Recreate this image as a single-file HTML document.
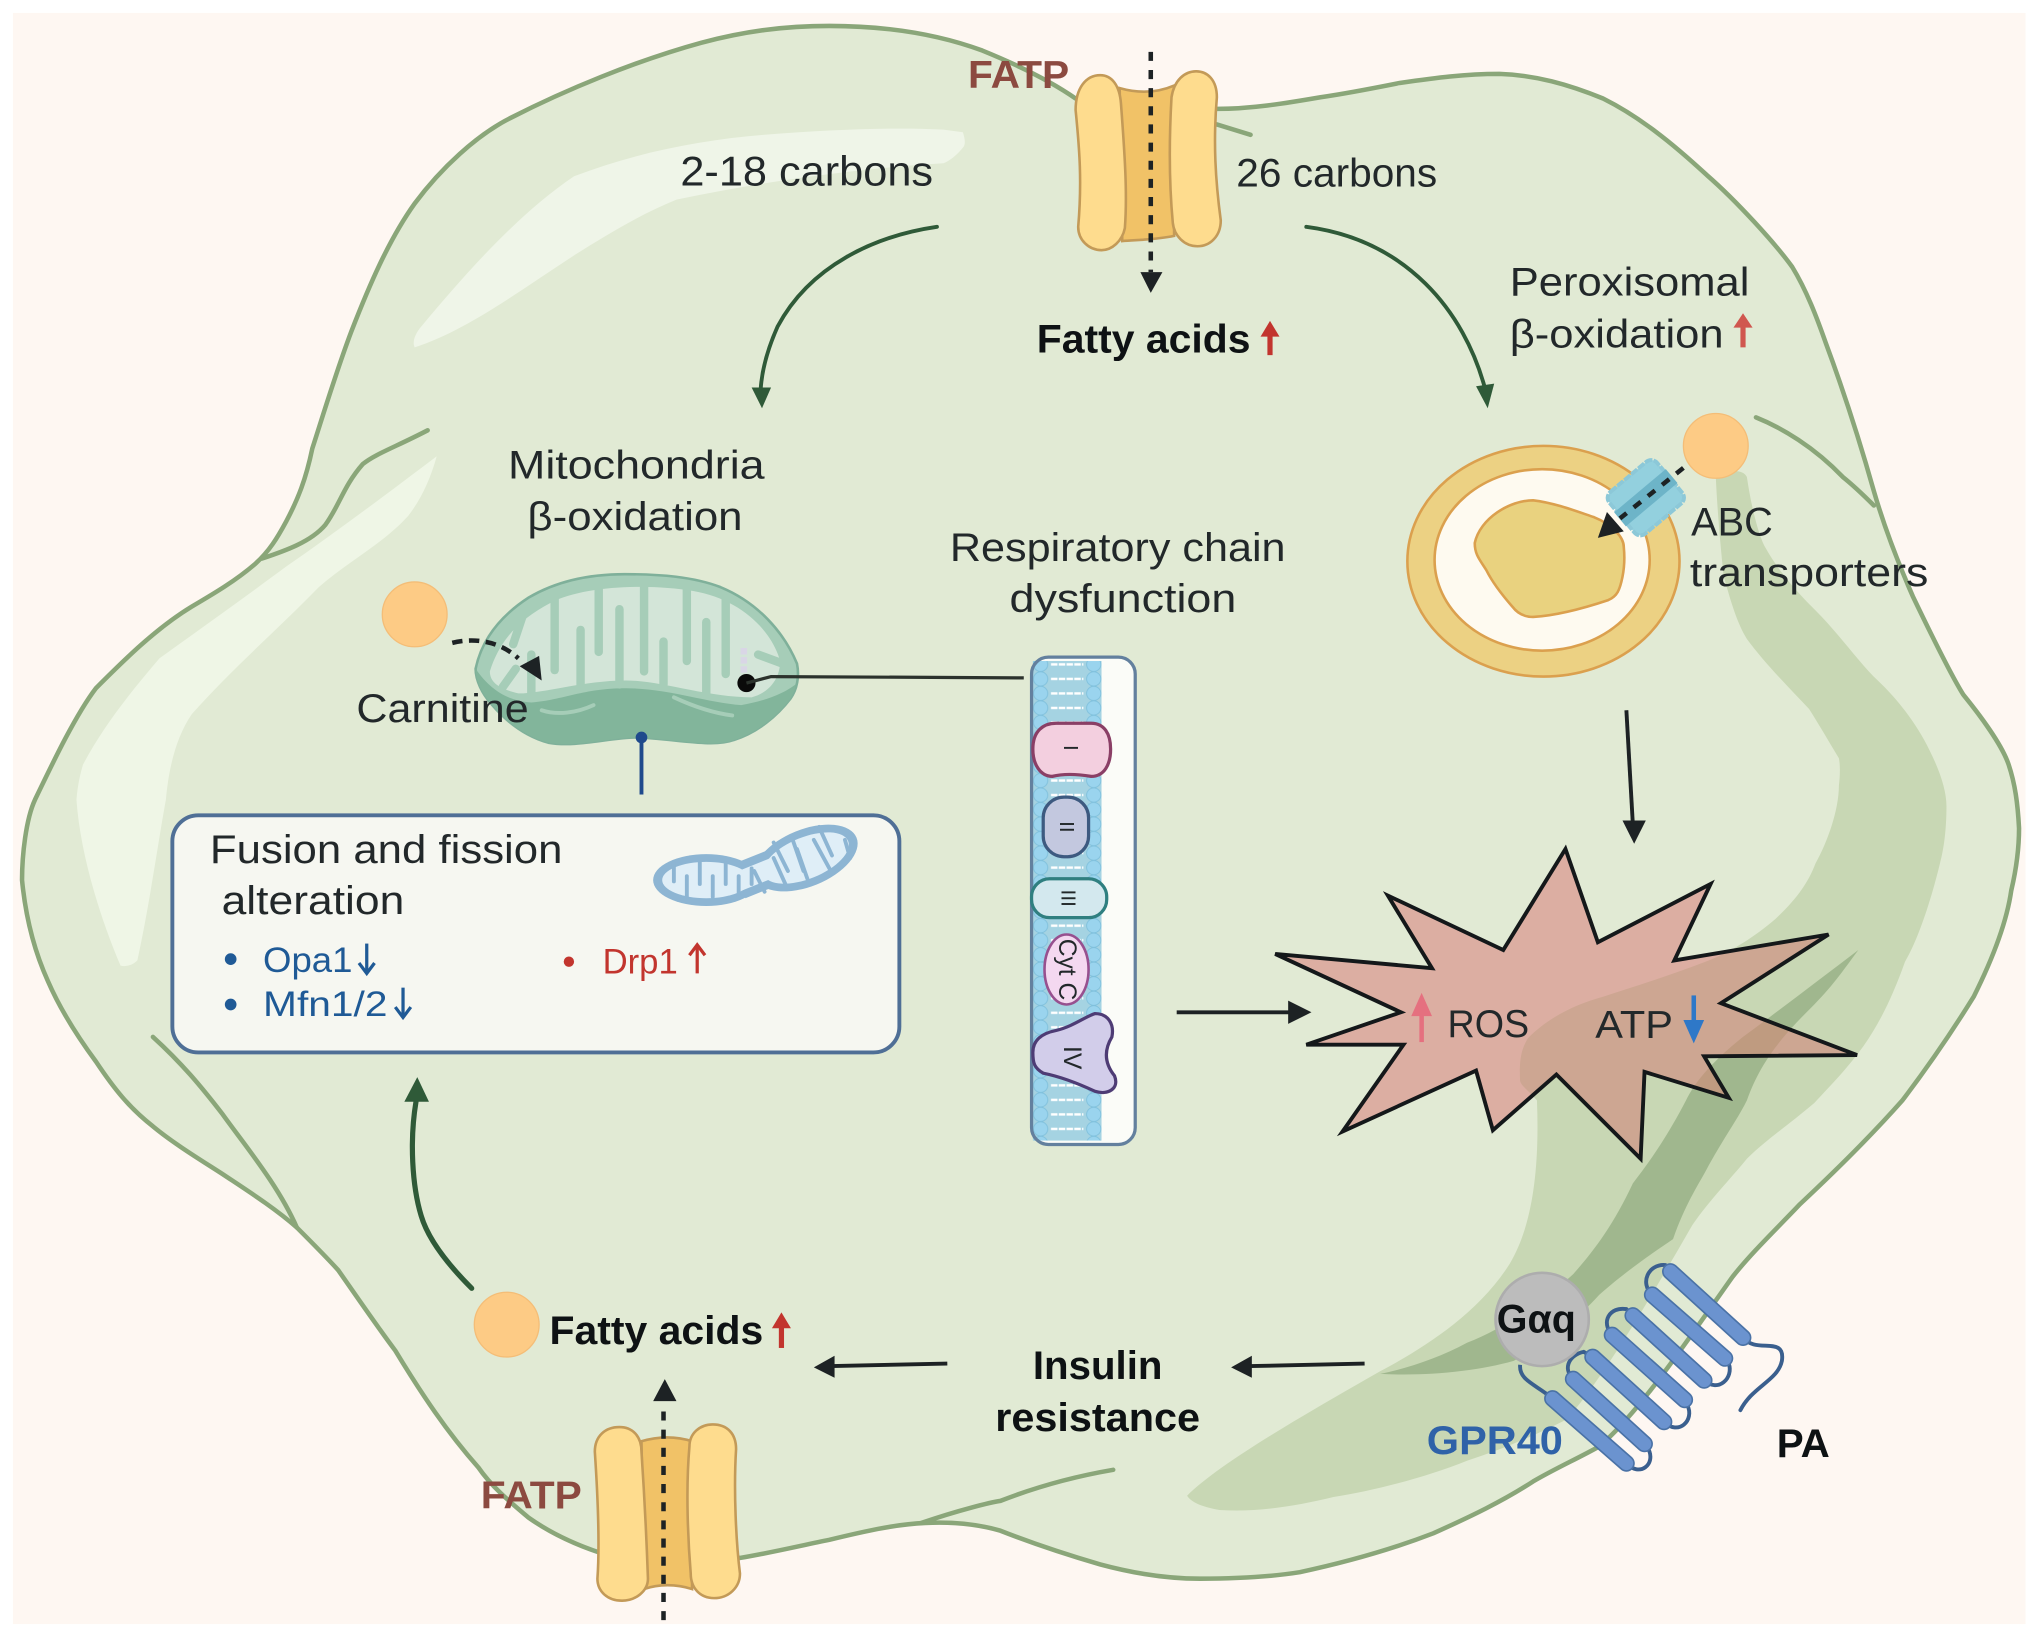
<!DOCTYPE html>
<html><head><meta charset="utf-8"><style>
html,body{margin:0;padding:0;background:#fff}
svg{display:block}
text{font-family:"Liberation Sans",sans-serif;fill:#22282a}
.b{font-weight:bold;fill:#0e1214}
</style></head><body>
<svg width="2032" height="1637" viewBox="0 0 1568 1263" preserveAspectRatio="none" xmlns="http://www.w3.org/2000/svg">
<defs>
<path id="star" d="M984 736L1105 747L1071 691L1160 733L1208 655L1233 727L1320 682L1292 741L1411 721L1328 774L1433 814L1315 815L1334 847L1269 827L1266 894L1201 829L1152 872L1139 826L1036 873L1083 806L1008 806L1081 781Z"/>
<path id="band" d="M1324 368C1335 362 1345 362 1348 368C1352 395 1358 415 1362 422C1375 445 1390 460 1401 471C1420 490 1435 512 1449 525C1465 540 1480 560 1489 579C1497 595 1502 610 1502 622C1502 640 1500 655 1497 666C1490 695 1480 725 1470 742C1460 770 1450 790 1438 807C1425 825 1412 838 1400 851C1380 868 1362 880 1348 894C1335 910 1320 925 1306 945C1280 990 1240 1060 1209 1095C1190 1105 1160 1118 1132 1127C1100 1140 1060 1150 1029 1155C1000 1162 970 1167 941 1165C930 1163 920 1160 916 1154C940 1130 1000 1095 1065 1058C1095 1042 1140 1015 1165 975C1183 945 1188 900 1186 849C1180 842 1174 838 1173 834C1172 815 1175 808 1179 801C1195 785 1215 775 1237 769C1265 760 1290 752 1316 742C1335 735 1355 722 1370 709C1385 695 1395 682 1401 666C1410 650 1419 625 1419 606C1420 598 1420 590 1419 585C1410 570 1403 558 1396 547C1380 530 1362 512 1348 493C1340 480 1335 462 1330 444C1327 415 1325 390 1324 368Z"/>
<path id="dark" d="M1434 733C1405 755 1375 778 1345 800C1320 820 1308 835 1301 849C1285 880 1270 900 1260 913C1245 945 1230 965 1214 983C1190 1005 1160 1025 1132 1036C1110 1048 1085 1056 1065 1060C1100 1062 1140 1058 1168 1050C1195 1035 1220 1015 1234 999C1258 978 1278 965 1291 956C1300 930 1310 915 1317 902C1330 878 1340 865 1348 849C1360 815 1380 795 1400 775C1415 760 1425 745 1434 733Z"/>
<clipPath id="sc"><use href="#star"/></clipPath>
<pattern id="lip" width="53" height="11.2" patternUnits="userSpaceOnUse" x="797" y="507">
<rect width="53" height="11.2" fill="#a5d3e2"/>
<circle cx="6" cy="5.6" r="5.5" fill="#9ad4ee" stroke="#7fc0dc" stroke-width=".7"/>
<circle cx="47" cy="5.6" r="5.5" fill="#9ad4ee" stroke="#7fc0dc" stroke-width=".7"/>
<path d="M14 5.6H39" stroke="#fff" stroke-width="1.8" stroke-dasharray="5 1"/>
</pattern>
</defs>
<rect width="1568" height="1263" fill="#fff"/>
<rect x="10" y="10" width="1553" height="1243" fill="#fef7f2"/>
<!-- cell -->
<path d="M830 76C810 62 785 50 758 39C720 25 680 20 640 20C605 20 575 24 541 33C490 47 435 70 394 91C368 104 340 130 320 157C300 185 285 220 271 256C260 285 250 318 241 346C236 370 230 385 221 402C214 415 208 425 197 435C182 448 165 458 148 468C120 485 95 510 74 531C58 552 40 590 27 617C20 632 17 660 17 679C20 710 27 735 37 757C47 780 60 800 74 819C88 840 100 855 118 869C135 883 155 895 172 906C190 918 212 932 229 947C240 958 252 970 261 980C275 1000 290 1022 305 1042C325 1075 345 1105 369 1132C380 1148 395 1160 408 1171C425 1183 445 1192 463 1198L571 1202C595 1198 620 1192 640 1188C665 1182 690 1176 714 1175C735 1174 755 1176 772 1181C800 1192 825 1200 849 1207C875 1214 900 1218 926 1218C950 1218 978 1217 1003 1213C1040 1205 1075 1195 1106 1183C1135 1170 1160 1158 1183 1143C1200 1133 1218 1125 1234 1116C1265 1090 1305 1030 1337 985C1352 966 1372 947 1389 929C1420 900 1445 875 1468 849C1490 820 1510 790 1523 769C1535 745 1548 715 1552 687C1556 670 1558 655 1558 639C1557 620 1555 605 1550 590C1545 575 1528 552 1515 536C1505 520 1488 485 1476 460C1465 435 1455 410 1446 379C1435 340 1422 300 1409 265C1402 245 1394 224 1383 206C1370 188 1340 155 1317 135C1290 110 1265 90 1237 76C1210 65 1185 58 1157 57C1130 57 1108 60 1080 64C1060 68 1040 72 1019 75C990 80 965 84 939 84Z" fill="#e1ead4" stroke="#8aa679" stroke-width="3.5" stroke-linejoin="round"/>
<path d="M743 102C745 108 745 112 743 114C738 120 733 124 728 126C660 130 590 140 522 154C495 165 470 180 443 197C400 225 360 255 320 268C318 264 320 258 325 252C360 210 400 165 443 136C490 118 540 108 590 104C640 100 690 98 728 100Z" fill="#eff5e8"/>
<path d="M337 352C332 370 325 385 315 398C295 420 270 432 246 453C215 485 180 515 148 551C135 570 130 595 128 617C122 650 115 700 106 741C102 745 97 746 93 745C78 710 62 660 59 617C60 605 62 597 64 590C80 560 100 535 123 508C155 485 190 460 221 437C260 410 300 380 337 352Z" fill="#eff6e6"/>
<use href="#band" fill="#c8d7b4"/>
<use href="#dark" fill="#a0b78e"/>
<g fill="none" stroke="#8aa679" stroke-width="3.5" stroke-linecap="round">
<path d="M330 332C305 345 290 350 280 358C265 375 262 390 251 405C240 418 220 425 202 431"/>
<path d="M118 800C140 820 155 838 172 860C190 885 215 915 229 947"/>
<path d="M711 1175C740 1165 765 1159 772 1158C800 1147 830 1139 859 1134"/>
<path d="M1355 322C1375 330 1400 345 1422 368C1432 376 1440 384 1446 390"/>
<path d="M939 96L965 104"/>
</g>
<!-- top channel -->
<g stroke="#c39a58" stroke-width="2">
<path d="M864 68C878 72 892 72 906 66L906 182C892 185 878 185 866 186Z" fill="#f1c267"/>
<path d="M830 85C830 68 838 58 849 58C858 58 864 66 865 80C868 120 870 150 868 176C866 186 858 193 850 193C840 193 832 185 832 175C835 140 833 115 830 85Z" fill="#fedc8e"/>
<path d="M904 75C906 62 914 55 923 55C932 55 939 62 939 75C936 110 938 140 942 170C942 182 934 190 924 190C914 190 906 182 905 172C902 140 902 110 904 75Z" fill="#fedc8e"/>
</g>
<path d="M888 40V210" stroke="#1d2224" stroke-width="3.5" stroke-dasharray="7 7" fill="none"/>
<path d="M880 210H897L888 226Z" fill="#1d2224"/>
<!-- bottom channel -->
<g stroke="#c39a58" stroke-width="2">
<path d="M495 1112C508 1108 522 1108 534 1112V1226C522 1222 508 1222 497 1226Z" fill="#f1c267"/>
<path d="M459 1120C459 1108 467 1101 478 1101C488 1101 495 1108 495 1120C497 1150 499 1190 500 1218C500 1228 490 1235 480 1235C469 1235 461 1228 461 1218C463 1190 461 1150 459 1120Z" fill="#fedc8e"/>
<path d="M532 1116C532 1106 540 1099 550 1099C561 1099 568 1106 568 1118C566 1150 568 1190 571 1214C571 1225 562 1233 551 1233C540 1233 533 1225 533 1214C531 1190 529 1150 532 1116Z" fill="#fedc8e"/>
</g>
<path d="M512 1250V1082" stroke="#1d2224" stroke-width="3.5" stroke-dasharray="7 7" fill="none"/>
<path d="M504 1081H522L513 1064Z" fill="#1d2224"/>
<!-- green arrows -->
<g fill="none" stroke="#2f5a38" stroke-linecap="round">
<path d="M723 175C675 182 625 205 600 252C592 270 588 285 587 300" stroke-width="3"/>
<path d="M1008 175C1085 185 1130 240 1146 300" stroke-width="3"/>
<path d="M364 994C345 975 330 955 325 938C318 915 316 880 321 850" stroke-width="4"/>
</g>
<path d="M580 299L595 299L588 315Z" fill="#2f5a38"/>
<path d="M1139 298L1153 296L1148 315Z" fill="#2f5a38"/>
<path d="M312 850L331 850L322 831Z" fill="#2f5a38"/>
<!-- black arrows -->
<g fill="none" stroke="#1d2224" stroke-width="3">
<path d="M1255 548L1260 636"/>
<path d="M908 781H995"/>
<path d="M1053 1052L965 1054"/>
<path d="M731 1052L642 1054"/>
</g>
<g fill="#1d2224">
<path d="M1252 633L1270 633L1261 651Z"/>
<path d="M994 772L1012 781L994 790Z"/>
<path d="M966 1046L950 1055L966 1063Z"/>
<path d="M644 1046L628 1055L644 1063Z"/>
</g>
<!-- orange circles -->
<circle cx="320" cy="474" r="25" fill="#fdcb85" stroke="#f4bd77" stroke-width="1"/>
<circle cx="1324" cy="344" r="25" fill="#fdcb85" stroke="#f4bd77" stroke-width="1"/>
<circle cx="391" cy="1022" r="25" fill="#fdcb85" stroke="#f4bd77" stroke-width="1"/>
<!-- mitochondrion -->
<path d="M367 516C372 492 388 474 408 461C430 448 455 443 482 443C510 443 535 445 556 453C585 465 605 488 615 512C617 522 615 532 610 539C600 552 585 565 566 571C550 577 520 570 492 569C470 569 445 577 423 573C405 568 390 556 379 543C372 535 367 525 367 516Z" fill="#a6cdb8" stroke="#7fb09a" stroke-width="2"/>
<path d="M378 518C385 495 400 478 425 465C450 452 500 450 535 456C570 462 595 485 602 510C602 525 592 535 580 538C545 538 510 525 483 525C450 525 420 535 400 535C388 532 378 528 378 518Z" fill="#d3e5d8"/>
<path d="M367 516C367 525 372 535 379 543C390 556 405 568 423 573C445 577 470 569 492 569C520 570 550 577 566 571C585 565 600 552 610 539C612 535 614 532 614 528C605 535 590 541 572 544C545 542 515 531 483 531C450 531 435 540 410 542C395 541 380 535 367 516Z" fill="#82b59b"/>
<path d="M418 548C430 552 445 550 458 544M520 538C535 545 550 550 565 552" fill="none" stroke="#a6cdb8" stroke-width="3" stroke-linecap="round"/>
<g stroke="#a6cdb8" stroke-width="6.5" stroke-linecap="round" fill="none">
<path d="M428 460V517"/><path d="M462 450V503"/><path d="M497 448V518"/><path d="M530 452V510"/><path d="M560 462V520"/><path d="M405 470L396 497"/>
<path d="M448 530V486"/><path d="M478 528V470"/><path d="M512 528V495"/><path d="M545 536V480"/><path d="M410 538V505"/><path d="M388 530L398 516"/><path d="M604 512L585 505"/>
</g>
<circle cx="576" cy="527" r="7" fill="#0a0a0a"/>
<path d="M574 500V520" stroke="#d9d6e6" stroke-width="5" stroke-dasharray="5 2"/>
<path d="M576 527L595 522L790 523" fill="none" stroke="#2b322c" stroke-width="2.5"/>
<path d="M349 496C365 492 385 494 400 508" fill="none" stroke="#1d2224" stroke-width="3.5" stroke-dasharray="8 5"/>
<path d="M401 514L416 506L418 525Z" fill="#1d2224"/>
<path d="M495 570V613" stroke="#1f4a8c" stroke-width="3"/>
<circle cx="495" cy="569" r="4.5" fill="#1f4a8c"/>
<!-- box -->
<rect x="133" y="629" width="561" height="183" rx="20" fill="#f6f7f1" stroke="#4f6f96" stroke-width="3"/>
<ellipse cx="545" cy="679" rx="41" ry="20" fill="#8db5d3"/>
<ellipse cx="622" cy="662" rx="42" ry="22" transform="rotate(-22 622 662)" fill="#8db5d3"/>
<path d="M570 680L600 668" stroke="#8db5d3" stroke-width="28"/>
<ellipse cx="545" cy="679" rx="34" ry="14" fill="#dfeef7"/>
<ellipse cx="622" cy="662" rx="35" ry="16" transform="rotate(-22 622 662)" fill="#dfeef7"/>
<path d="M570 680L600 668" stroke="#dfeef7" stroke-width="15"/>
<g stroke="#8db5d3" stroke-width="3" fill="none" stroke-linecap="round">
<path d="M520 666V680M530 692V676M540 665V682M550 692V676M560 666V682M570 692V676M580 670V682"/>
<path d="M590 688L582 672M597 650L608 672M611 646L620 672M606 682L597 662M623 678L615 655M632 638L642 660M640 670L628 648M652 648L656 662"/>
</g>
<circle cx="178" cy="740" r="4.5" fill="#1f5a96"/><circle cx="178" cy="775" r="4.5" fill="#1f5a96"/><circle cx="439" cy="742" r="4" fill="#c2352e"/>
<!-- membrane -->
<rect x="796" y="507" width="80" height="376" rx="13" fill="#fbfcf8"/>
<rect x="797" y="510" width="53" height="370" fill="url(#lip)"/>
<rect x="796" y="507" width="80" height="376" rx="13" fill="none" stroke="#63809e" stroke-width="2.5"/>
<path d="M797 578C797 564 805 558 815 558H842C852 558 857 566 857 578C857 590 852 599 842 599C830 597 820 597 812 599C803 599 797 590 797 578Z" fill="#f3cfdf" stroke="#8a3f66" stroke-width="2.5"/>
<rect x="805" y="615" width="35" height="46" rx="16" fill="#c3c8df" stroke="#3d5a80" stroke-width="2.5"/>
<rect x="796" y="678" width="58" height="30" rx="14" fill="#d3e8ee" stroke="#2f7f80" stroke-width="2.5"/>
<ellipse cx="823" cy="748" rx="17" ry="27" fill="#f4d8f0" stroke="#97508f" stroke-width="2"/>
<path d="M797 812C797 802 805 797 815 795C828 792 838 784 845 782C855 782 860 790 858 800C852 810 852 820 860 830C864 840 855 845 845 842C830 835 815 830 805 828C798 824 797 820 797 812Z" fill="#d2cdea" stroke="#4e3c75" stroke-width="2.5"/>
<!-- peroxisome -->
<ellipse cx="1191" cy="433" rx="105" ry="89" fill="#ecd183" stroke="#dba04e" stroke-width="2"/>
<ellipse cx="1190" cy="432" rx="83" ry="70" fill="#fefaf0" stroke="#dba04e" stroke-width="2"/>
<path d="M1138 419C1142 400 1165 386 1183 386C1200 388 1218 395 1230 399C1245 405 1253 415 1253 422C1254 432 1253 440 1252 445C1250 455 1248 460 1241 463C1220 470 1200 475 1183 476C1175 476 1170 472 1167 468C1160 460 1152 450 1147 440C1142 432 1138 428 1138 419Z" fill="#e9d27f" stroke="#dba04e" stroke-width="2"/>
<path d="M1250 408L1262 420" stroke="#fefaf0" stroke-width="4"/>
<g transform="translate(1270 384) rotate(-40)">
<rect x="-24" y="-21" width="48" height="42" rx="6" fill="#93d0de" stroke="#8cc8d8" stroke-width="3" stroke-dasharray="6 1"/>
<rect x="-26" y="-7" width="52" height="14" fill="#6db4c8"/>
</g>
<path d="M1299 361L1250 400" stroke="#1d2224" stroke-width="3.5" stroke-dasharray="7 7" fill="none"/>
<path d="M1233 415L1240 395L1253 410Z" fill="#1d2224"/>
<!-- ROS star -->
<use href="#star" fill="#dcaea2"/>
<g clip-path="url(#sc)"><use href="#band" fill="#cda692"/><use href="#dark" fill="#bf9b80"/></g>
<use href="#star" fill="none" stroke="#14181a" stroke-width="3" stroke-linejoin="miter"/>
<path d="M1097 804V780" stroke="#e5707f" stroke-width="3.5"/><path d="M1089 784L1097 766L1105 784Z" fill="#e5707f"/>
<path d="M1307 768V790" stroke="#2e78c8" stroke-width="3.5"/><path d="M1299 787L1315 787L1307 805Z" fill="#2e78c8"/>
<!-- GPR40 -->
<g fill="none" stroke="#3a5f8e" stroke-width="3">
<path d="M1173 1053C1172 1065 1185 1068 1198 1079"/>
<path d="M1255 1129C1265 1140 1278 1130 1272 1118C1270 1113 1269 1114 1269 1114"/>
<path d="M1214 1064C1205 1055 1212 1045 1222 1043L1229 1047"/>
<path d="M1284 1097C1295 1108 1308 1096 1302 1084L1300 1080"/>
<path d="M1244 1030C1235 1020 1242 1008 1255 1010L1260 1015"/>
<path d="M1315 1065C1326 1075 1338 1063 1334 1052L1331 1048"/>
<path d="M1275 999C1265 990 1272 975 1285 976L1289 981"/>
<path d="M1345 1032C1355 1045 1378 1030 1375 1050C1372 1065 1352 1070 1343 1088" stroke-linecap="round"/>
</g>
<g stroke="#4a72a6" stroke-width="13" stroke-linecap="round">
<path d="M1198 1079L1255 1129M1214 1064L1269 1114M1229 1047L1284 1097M1244 1030L1300 1080M1260 1015L1315 1065M1275 999L1331 1048M1289 981L1345 1032"/>
</g>
<g stroke="#6b93cf" stroke-width="10.5" stroke-linecap="round">
<path d="M1198 1079L1255 1129M1214 1064L1269 1114M1229 1047L1284 1097M1244 1030L1300 1080M1260 1015L1315 1065M1275 999L1331 1048M1289 981L1345 1032"/>
</g>
<circle cx="1190" cy="1018" r="36" fill="#bcbcbc" stroke="#adadad" stroke-width="2"/>
<!-- text -->
<text x="747" y="68" font-size="30" font-weight="bold" style="fill:#8c4a40" textLength="78" lengthAdjust="spacingAndGlyphs">FATP</text>
<text x="371" y="1164" font-size="30" font-weight="bold" style="fill:#8c4a40" textLength="78" lengthAdjust="spacingAndGlyphs">FATP</text>
<text x="525" y="143" font-size="32" textLength="195" lengthAdjust="spacingAndGlyphs">2-18 carbons</text>
<text x="954" y="144" font-size="31" textLength="155" lengthAdjust="spacingAndGlyphs">26 carbons</text>
<text x="800" y="272" font-size="31" class="b" textLength="165" lengthAdjust="spacingAndGlyphs">Fatty acids</text>
<text x="424" y="1037" font-size="31" class="b" textLength="165" lengthAdjust="spacingAndGlyphs">Fatty acids</text>
<text x="1165" y="228" font-size="31" textLength="185" lengthAdjust="spacingAndGlyphs">Peroxisomal</text>
<text x="1165" y="268" font-size="31" textLength="165" lengthAdjust="spacingAndGlyphs">β-oxidation</text>
<text x="392" y="369" font-size="31" textLength="198" lengthAdjust="spacingAndGlyphs">Mitochondria</text>
<text x="407" y="409" font-size="31" textLength="166" lengthAdjust="spacingAndGlyphs">β-oxidation</text>
<text x="733" y="433" font-size="31" textLength="259" lengthAdjust="spacingAndGlyphs">Respiratory chain</text>
<text x="779" y="472" font-size="31" textLength="175" lengthAdjust="spacingAndGlyphs">dysfunction</text>
<text x="275" y="557" font-size="31" textLength="133" lengthAdjust="spacingAndGlyphs">Carnitine</text>
<text x="1305" y="413" font-size="31" textLength="63" lengthAdjust="spacingAndGlyphs">ABC</text>
<text x="1304" y="452" font-size="31" textLength="184" lengthAdjust="spacingAndGlyphs">transporters</text>
<text x="162" y="666" font-size="31" textLength="272" lengthAdjust="spacingAndGlyphs">Fusion and fission</text>
<text x="171" y="705" font-size="31" textLength="141" lengthAdjust="spacingAndGlyphs">alteration</text>
<text x="203" y="750" font-size="27" style="fill:#1f5a96" textLength="69" lengthAdjust="spacingAndGlyphs">Opa1</text>
<text x="203" y="784" font-size="27" style="fill:#1f5a96" textLength="96" lengthAdjust="spacingAndGlyphs">Mfn1/2</text>
<text x="465" y="751" font-size="27" style="fill:#c2352e" textLength="58" lengthAdjust="spacingAndGlyphs">Drp1</text>
<text x="1117" y="800" font-size="30" textLength="63" lengthAdjust="spacingAndGlyphs">ROS</text>
<text x="1231" y="801" font-size="30" textLength="60" lengthAdjust="spacingAndGlyphs">ATP</text>
<text x="797" y="1064" font-size="31" class="b" textLength="100" lengthAdjust="spacingAndGlyphs">Insulin</text>
<text x="768" y="1104" font-size="31" class="b" textLength="158" lengthAdjust="spacingAndGlyphs">resistance</text>
<text x="1101" y="1122" font-size="31" font-weight="bold" style="fill:#2f62a8" textLength="105" lengthAdjust="spacingAndGlyphs">GPR40</text>
<text x="1371" y="1124" font-size="31" class="b" textLength="41" lengthAdjust="spacingAndGlyphs">PA</text>
<text x="1155" y="1028" font-size="31" class="b" textLength="61" lengthAdjust="spacingAndGlyphs">Gαq</text>
<g style="fill:#444">
<text x="827" y="583" font-size="16" transform="rotate(90 827 577)" text-anchor="middle">I</text>
<text x="823" y="643" font-size="16" transform="rotate(90 823 638)" text-anchor="middle">II</text>
<text x="825" y="699" font-size="16" transform="rotate(90 825 693)" text-anchor="middle">III</text>
<text x="823" y="754" font-size="19" transform="rotate(90 823 748)" text-anchor="middle">Cyt C</text>
<text x="827" y="822" font-size="19" transform="rotate(90 827 816)" text-anchor="middle">IV</text>
</g>
<!-- small arrows beside text -->
<g fill="none" stroke-width="3">
<path d="M980 274V255" stroke="#c2352e" stroke-width="4"/><path d="M974 259L980 249L986 259Z" stroke="#c2352e" fill="#c2352e" stroke-width="1.5"/>
<path d="M1345 268V249" stroke="#d0574f" stroke-width="4"/><path d="M1339 252L1345 243L1351 252Z" stroke="#d0574f" fill="#d0574f" stroke-width="1.5"/>
<path d="M603 1040V1021" stroke="#c2352e" stroke-width="4"/><path d="M597 1024L603 1014L609 1024Z" stroke="#c2352e" fill="#c2352e" stroke-width="1.5"/>
<path d="M283 728V750" stroke="#1f5a96" stroke-width="2.5"/><path d="M277 743L283 751L289 743" stroke="#1f5a96" stroke-width="2.5"/>
<path d="M311 762V784" stroke="#1f5a96" stroke-width="2.5"/><path d="M305 777L311 785L317 777" stroke="#1f5a96" stroke-width="2.5"/>
<path d="M538 751V730" stroke="#c2352e" stroke-width="2.5"/><path d="M532 737L538 729L544 737" stroke="#c2352e" stroke-width="2.5"/>
</g>
</svg>
</body></html>
